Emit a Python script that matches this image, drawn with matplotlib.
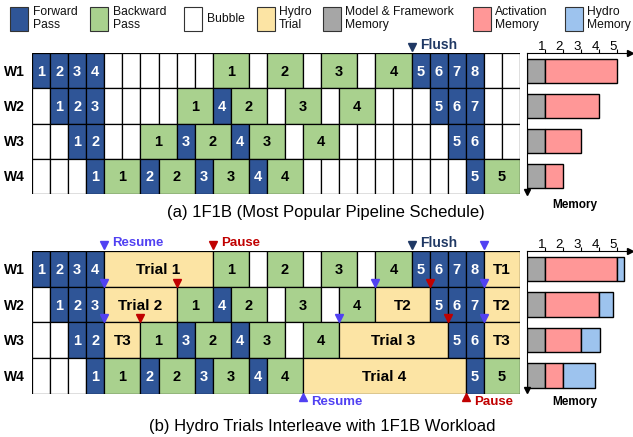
import matplotlib
matplotlib.use("Agg")
import matplotlib.pyplot as plt
from matplotlib.patches import Rectangle

plt.rcParams['font.family'] = ['Liberation Sans', 'DejaVu Sans']

# colours
C_FWD = '#2F5597'
C_BWD = '#A9D18E'
C_BUB = '#FFFFFF'
C_TRIAL = '#FCE4A4'
C_MODEL = '#A6A6A6'
C_ACT = '#FF9797'
C_HMEM = '#9DC3EE'
C_RES = '#5141F2'
C_PAU = '#C00000'
C_FLU = '#1F3864'

# schedules: F<n> forward (1 slot), B<n> backward (2 slots), _ bubble (1 slot),
# H|label|len hydro trial
workers = ['W1', 'W2', 'W3', 'W4']
sched_a = [
    "F1 F2 F3 F4 _ _ _ _ _ _ B1 _ B2 _ B3 _ B4 F5 F6 F7 F8 _ _",
    "_ F1 F2 F3 _ _ _ _ B1 F4 B2 _ B3 _ B4 _ _ _ F5 F6 F7 _ _",
    "_ _ F1 F2 _ _ B1 F3 B2 F4 B3 _ B4 _ _ _ _ _ _ F5 F6 _ _",
    "_ _ _ F1 B1 F2 B2 F3 B3 F4 B4 _ _ _ _ _ _ _ _ _ F5 B5",
]
sched_b = [
    "F1 F2 F3 F4 H|Trial_1|6 B1 _ B2 _ B3 _ B4 F5 F6 F7 F8 H|T1|2",
    "_ F1 F2 F3 H|Trial_2|4 B1 F4 B2 _ B3 _ B4 H|T2|3 F5 F6 F7 H|T2|2",
    "_ _ F1 F2 H|T3|2 B1 F3 B2 F4 B3 _ B4 H|Trial_3|6 F5 F6 H|T3|2",
    "_ _ _ F1 B1 F2 B2 F3 B3 F4 B4 H|Trial_4|9 F5 B5",
]

# memory (units)
mem_model = [1, 1, 1, 1]
mem_act = [4, 3, 2, 1]
mem_hydro = [0.4, 0.75, 1.08, 1.75]
mem_ticks = [1, 2, 3, 4, 5]

# markers on (b): (slot, row boundary, kind)
marks_b = [
    (4, 0, 'res'), (10, 0, 'pau'), (25, 0, 'res'),
    (4, 1, 'res'), (8, 1, 'pau'), (19, 1, 'res'), (22, 1, 'pau'), (25, 1, 'res'),
    (4, 2, 'res'), (6, 2, 'pau'), (17, 2, 'res'), (23, 2, 'pau'), (25, 2, 'res'),
]
bottom_marks_b = [(15, 'res', 'Resume'), (24, 'pau', 'Pause')]
top_labels_b = [(4, 'res', 'Resume'), (10, 'pau', 'Pause')]
flush_slot = 21

legend_items = [
    ('Forward\nPass', C_FWD, 10),
    ('Backward\nPass', C_BWD, 90),
    ('Bubble', C_BUB, 184),
    ('Hydro\nTrial', C_TRIAL, 256.7),
    ('Model & Framework\nMemory', C_MODEL, 322.7),
    ('Activation\nMemory', C_ACT, 472.7),
    ('Hydro\nMemory', C_HMEM, 565),
]

W, H = 633, 437
fig = plt.figure(figsize=(W / 100, H / 100), dpi=100)


def px_axes(left, top, right, bottom):
    return fig.add_axes([left / W, 1 - bottom / H, (right - left) / W, (bottom - top) / H])


def parse(tok):
    if tok == '_':
        return C_BUB, '', 1, 'k'
    if tok.startswith('H|'):
        _, lab, n = tok.split('|')
        return C_TRIAL, lab.replace('_', ' '), int(n), 'k'
    if tok[0] == 'F':
        return C_FWD, tok[1:], 1, 'white'
    return C_BWD, tok[1:], 2, 'k'


def draw_gantt(ax, sched):
    for r, row in enumerate(sched):
        start = 0
        for tok in row.split():
            col, lab, n, tc = parse(tok)
            ax.barh(r + 0.5, n, left=start, height=1, color=col,
                    edgecolor='black', linewidth=0.9)
            if lab:
                fs = 11 if col == C_TRIAL else 10.5
                ax.text(start + n / 2, r + 0.53, lab, ha='center', va='center',
                        color=tc, fontsize=fs, fontweight='bold')
            start += n
        ax.text(-0.95, r + 0.53, workers[r], ha='center', va='center',
                fontsize=10, fontweight='bold')
    ax.set_xlim(0, 27)
    ax.set_ylim(4, 0)
    ax.axis('off')


def draw_flush(ax):
    ax.plot([flush_slot], [-0.16], marker='v', ms=6, color=C_FLU, clip_on=False, zorder=5)
    ax.text(flush_slot + 0.45, -0.23, 'Flush', ha='left', va='center', color=C_FLU,
            fontsize=10, fontweight='bold', clip_on=False)


def draw_memory(ax, ylim, hydro=None):
    y = [r + 0.5 for r in range(4)]
    ax.barh(y, mem_model, height=0.68, color=C_MODEL, edgecolor='black', linewidth=1)
    ax.barh(y, mem_act, left=mem_model, height=0.68, color=C_ACT, edgecolor='black', linewidth=1)
    if hydro is not None:
        left = [a + b for a, b in zip(mem_model, mem_act)]
        ax.barh(y, hydro, left=left, height=0.68, color=C_HMEM, edgecolor='black', linewidth=1)
    ax.set_xlim(0, 103 / 18)
    ax.set_ylim(ylim, 0)
    for s in ['right', 'bottom']:
        ax.spines[s].set_visible(False)
    ax.xaxis.set_ticks_position('top')
    ax.set_xticks(mem_ticks)
    ax.set_xticklabels([str(t) for t in mem_ticks], ha='right')
    ax.tick_params(axis='x', direction='out', length=3, width=0.8, pad=-3, labelsize=9.5)
    ax.set_yticks([])
    ax.plot([1], [1], marker='>', ms=4, color='black', transform=ax.transAxes, clip_on=False)
    ax.plot([0], [0], marker='v', ms=4, color='black', transform=ax.transAxes, clip_on=False)


# (a)
ax_a = px_axes(32, 53, 520, 194)
draw_gantt(ax_a, sched_a)
draw_flush(ax_a)
mem_a = px_axes(527, 53, 630, 192)
draw_memory(mem_a, 139 / 35.25)

# (b)
ax_b = px_axes(32, 251, 520, 393.5)
draw_gantt(ax_b, sched_b)
draw_flush(ax_b)
mcol = {'res': C_RES, 'pau': C_PAU}
for slot, rb, kind in marks_b:
    off = 0.16 if rb == 0 else 0.11
    ax_b.plot([slot], [rb - off], marker='v', ms=6, color=mcol[kind], clip_on=False, zorder=5)
for slot, kind, lab in top_labels_b:
    ax_b.text(slot + 0.45, -0.22, lab, ha='left', va='center', color=mcol[kind],
              fontsize=9.5, fontweight='bold', clip_on=False)
for slot, kind, lab in bottom_marks_b:
    ax_b.plot([slot], [4.1], marker='^', ms=6, color=mcol[kind], clip_on=False, zorder=5)
    ax_b.text(slot + 0.45, 4.24, lab, ha='left', va='center', color=mcol[kind],
              fontsize=9.5, fontweight='bold', clip_on=False)
mem_b = px_axes(527, 251, 630, 390)
draw_memory(mem_b, 139 / 35.6, mem_hydro)

# memory labels and captions
fig.text(575 / W, 1 - 205 / H, 'Memory', ha='center', va='center', fontsize=8.5, fontweight='bold')
fig.text(575 / W, 1 - 402 / H, 'Memory', ha='center', va='center', fontsize=8.5, fontweight='bold')
fig.text(325.5 / W, 1 - 213 / H, '(a) 1F1B (Most Popular Pipeline Schedule)',
         ha='center', va='center', fontsize=12)
fig.text(322 / W, 1 - 426.5 / H, '(b) Hydro Trials Interleave with 1F1B Workload',
         ha='center', va='center', fontsize=12)

# legend
for lab, col, x in legend_items:
    fig.patches.append(Rectangle((x / W, 1 - 30.7 / H), 18 / W, 23.4 / H, transform=fig.transFigure,
                                 facecolor=col, edgecolor='#333333', linewidth=0.8))
    fig.text((x + 22.5) / W, 1 - 18.5 / H, lab, ha='left', va='center', fontsize=8.7,
             linespacing=1.05, color='#111111')

fig.savefig('out.png', dpi=100)
